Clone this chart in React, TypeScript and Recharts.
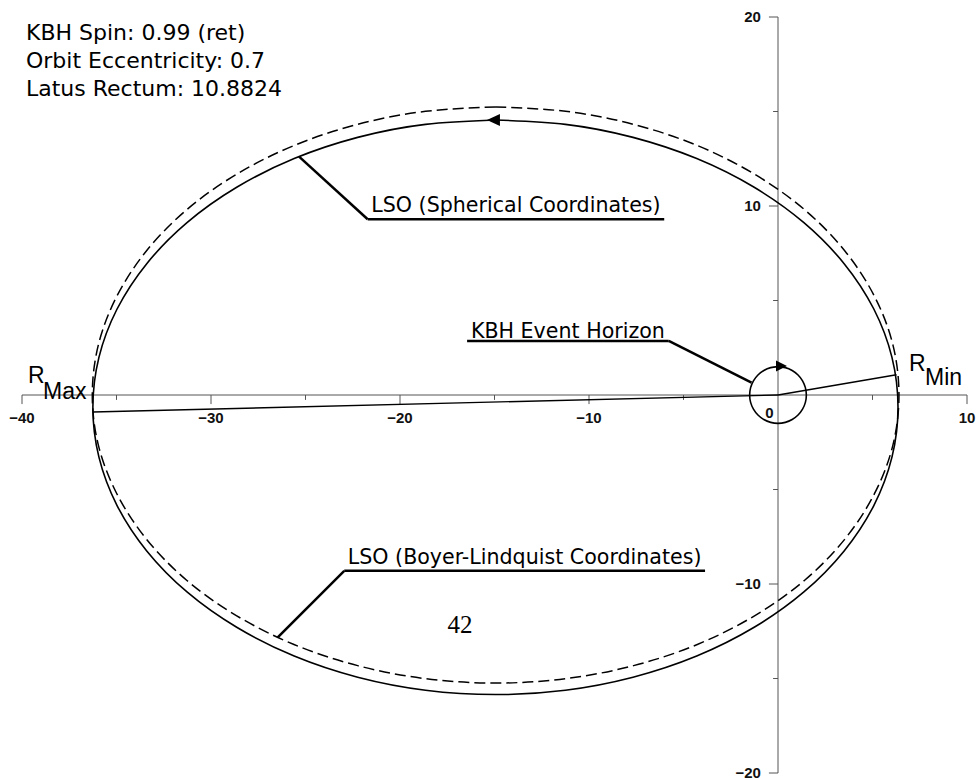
import React from 'react';
import { ScatterChart, Scatter, XAxis, YAxis, ReferenceLine } from 'recharts';

// LSO traced in Boyer-Lindquist coordinates (dashed curve)
const lsoBoyerLindquist = [
  { x: -14.94, y: 15.24 }, { x: -18.65, y: 15.01 }, { x: -22.24, y: 14.32 }, { x: -25.61, y: 13.2 },
  { x: -28.66, y: 11.67 }, { x: -31.29, y: 9.8 }, { x: -33.42, y: 7.62 }, { x: -34.99, y: 5.21 },
  { x: -35.96, y: 2.65 }, { x: -36.28, y: 0 }, { x: -35.96, y: -2.65 }, { x: -34.99, y: -5.21 },
  { x: -33.42, y: -7.62 }, { x: -31.29, y: -9.8 }, { x: -28.66, y: -11.67 }, { x: -25.61, y: -13.2 },
  { x: -22.24, y: -14.32 }, { x: -18.65, y: -15.01 }, { x: -14.94, y: -15.24 }, { x: -11.24, y: -15.01 },
  { x: -7.64, y: -14.32 }, { x: -4.27, y: -13.2 }, { x: -1.22, y: -11.67 }, { x: 1.41, y: -9.8 },
  { x: 3.54, y: -7.62 }, { x: 5.11, y: -5.21 }, { x: 6.08, y: -2.65 }, { x: 6.4, y: 0 },
  { x: 6.08, y: 2.65 }, { x: 5.11, y: 5.21 }, { x: 3.54, y: 7.62 }, { x: 1.41, y: 9.8 },
  { x: -1.22, y: 11.67 }, { x: -4.27, y: 13.2 }, { x: -7.64, y: 14.32 }, { x: -11.24, y: 15.01 },
  { x: -14.94, y: 15.24 },
];

// LSO traced in spherical coordinates (solid curve)
const lsoSpherical = [
  { x: -14.95, y: 14.55 }, { x: -18.65, y: 14.32 }, { x: -22.24, y: 13.63 }, { x: -25.6, y: 12.51 },
  { x: -28.64, y: 10.99 }, { x: -31.27, y: 9.12 }, { x: -33.4, y: 6.95 }, { x: -34.97, y: 4.55 },
  { x: -35.93, y: 1.99 }, { x: -36.25, y: -0.65 }, { x: -35.93, y: -3.29 }, { x: -34.97, y: -5.85 },
  { x: -33.4, y: -8.25 }, { x: -31.27, y: -10.42 }, { x: -28.64, y: -12.29 }, { x: -25.6, y: -13.81 },
  { x: -22.24, y: -14.93 }, { x: -18.65, y: -15.62 }, { x: -14.95, y: -15.85 }, { x: -11.25, y: -15.62 },
  { x: -7.67, y: -14.93 }, { x: -4.3, y: -13.81 }, { x: -1.26, y: -12.29 }, { x: 1.37, y: -10.42 },
  { x: 3.5, y: -8.25 }, { x: 5.07, y: -5.85 }, { x: 6.03, y: -3.29 }, { x: 6.35, y: -0.65 },
  { x: 6.03, y: 1.99 }, { x: 5.07, y: 4.55 }, { x: 3.5, y: 6.95 }, { x: 1.37, y: 9.12 },
  { x: -1.26, y: 10.99 }, { x: -4.3, y: 12.51 }, { x: -7.67, y: 13.63 }, { x: -11.25, y: 14.32 },
  { x: -14.95, y: 14.55 },
];

const eventHorizon = [
  { x: 0, y: 1.5 }, { x: -0.388, y: 1.449 }, { x: -0.75, y: 1.299 }, { x: -1.061, y: 1.061 },
  { x: -1.299, y: 0.75 }, { x: -1.449, y: 0.388 }, { x: -1.5, y: 0 }, { x: -1.449, y: -0.388 },
  { x: -1.299, y: -0.75 }, { x: -1.061, y: -1.061 }, { x: -0.75, y: -1.299 }, { x: -0.388, y: -1.449 },
  { x: 0, y: -1.5 }, { x: 0.388, y: -1.449 }, { x: 0.75, y: -1.299 }, { x: 1.061, y: -1.061 },
  { x: 1.299, y: -0.75 }, { x: 1.449, y: -0.388 }, { x: 1.5, y: 0 }, { x: 1.449, y: 0.388 },
  { x: 1.299, y: 0.75 }, { x: 1.061, y: 1.061 }, { x: 0.75, y: 1.299 }, { x: 0.388, y: 1.449 },
  { x: 0, y: 1.5 },
];

const periapsisRay = [{ x: 0, y: 0 }, { x: 6.27, y: 1.07 }];
const apoapsisRay = [{ x: 0, y: 0 }, { x: -36.25, y: -0.9 }];
const orbitArrow = [{ x: -15.03, y: 14.55 }];
const horizonArrow = [{ x: 0.16, y: 1.53 }];

const sphericalLeader = [{ x: -25.34, y: 12.61 }, { x: -21.71, y: 9.3 }, { x: -6.02, y: 9.3 }];
const horizonLeader = [{ x: -1.4, y: 0.66 }, { x: -5.78, y: 2.86 }, { x: -16.45, y: 2.86 }];
const boyerLeader = [{ x: -26.47, y: -12.82 }, { x: -22.95, y: -9.3 }, { x: -3.86, y: -9.3 }];

const xMajor = [-40, -30, -20, -10, 10];
const xMinor = [-35, -25, -15, -5, 5];
const yMajor = [-20, -10, 10, 20];
const yMinor = [-15, -5, 5, 15];

const infoLines = ['KBH Spin: 0.99 (ret)', 'Orbit Eccentricity: 0.7', 'Latus Rectum: 10.8824'];

const fmt = (v: number) => (v < 0 ? '\u2212' + Math.abs(v) : String(v));

const tickFont = { fill: '#111', fontSize: 15, fontWeight: 'bold', fontFamily: 'Liberation Sans, Arial, sans-serif' };
const noteFont = { fill: '#000', fontSize: 20.6, fontFamily: 'DejaVu Sans, sans-serif' };

const noDot = () => <g />;
const leftArrow = (p: any) => (
  <polygon points={`${p.cx - 7},${p.cy} ${p.cx + 6},${p.cy - 6} ${p.cx + 6},${p.cy + 6}`} fill="#000" />
);
const rightArrow = (p: any) => (
  <polygon points={`${p.cx + 6},${p.cy} ${p.cx - 5},${p.cy - 5.5} ${p.cx - 5},${p.cy + 5.5}`} fill="#000" />
);

const MAJOR = 0.48;
const MINOR = 0.26;

const App: React.FC = () => {
  return (
    <div style={{ position: 'absolute', left: 0, top: 0, width: 978, height: 780, background: '#fff' }}>
      <ScatterChart width={978} height={780} margin={{ top: 17, right: 11, bottom: 7, left: 22 }}>
        <XAxis type="number" dataKey="x" domain={[-40, 10]} allowDataOverflow hide />
        <YAxis type="number" dataKey="y" domain={[-20, 20]} allowDataOverflow hide />

        <ReferenceLine y={0} stroke="#555" strokeWidth={1} />
        <ReferenceLine x={0} stroke="#555" strokeWidth={1} />
        {xMajor.map((v) => (
          <ReferenceLine key={'xM' + v} segment={[{ x: v, y: 0 }, { x: v, y: -MAJOR }]} stroke="#555"
            label={{ value: fmt(v), position: 'bottom', offset: 8, ...tickFont }} />
        ))}
        {xMinor.map((v) => (
          <ReferenceLine key={'xm' + v} segment={[{ x: v, y: 0 }, { x: v, y: -MINOR }]} stroke="#555" />
        ))}
        <ReferenceLine segment={[{ x: -0.45, y: 0 }, { x: -0.45, y: -MAJOR }]} stroke="none"
          label={{ value: '0', position: 'bottom', offset: 3.5, ...tickFont }} />
        {yMajor.map((v) => (
          <ReferenceLine key={'yM' + v} segment={[{ x: 0, y: v }, { x: -MAJOR, y: v }]} stroke="#555"
            label={{ value: fmt(v), position: 'left', offset: 8, ...tickFont }} />
        ))}
        {yMinor.map((v) => (
          <ReferenceLine key={'ym' + v} segment={[{ x: 0, y: v }, { x: -MINOR, y: v }]} stroke="#555" />
        ))}

        <Scatter data={lsoBoyerLindquist} line={{ stroke: '#000', strokeWidth: 1.5, strokeDasharray: '11 5' }}
          lineJointType="natural" shape={noDot} isAnimationActive={false} />
        <Scatter data={lsoSpherical} line={{ stroke: '#000', strokeWidth: 1.6 }}
          lineJointType="natural" shape={noDot} isAnimationActive={false} />
        <Scatter data={eventHorizon} line={{ stroke: '#000', strokeWidth: 1.6 }}
          lineJointType="natural" shape={noDot} isAnimationActive={false} />
        <Scatter data={periapsisRay} line={{ stroke: '#000', strokeWidth: 1.4 }} shape={noDot} isAnimationActive={false} />
        <Scatter data={apoapsisRay} line={{ stroke: '#000', strokeWidth: 1.4 }} shape={noDot} isAnimationActive={false} />
        <Scatter data={orbitArrow} shape={leftArrow} isAnimationActive={false} />
        <Scatter data={horizonArrow} shape={rightArrow} isAnimationActive={false} />

        <ReferenceLine segment={[sphericalLeader[0], sphericalLeader[1]]} stroke="#000" strokeWidth={2.5} />
        <ReferenceLine segment={[sphericalLeader[1], sphericalLeader[2]]} stroke="#000" strokeWidth={2.5}
          label={{ value: 'LSO (Spherical Coordinates)', position: 'top', offset: 7.5, ...noteFont }} />
        <ReferenceLine segment={[horizonLeader[0], horizonLeader[1]]} stroke="#000" strokeWidth={2.5} />
        <ReferenceLine segment={[horizonLeader[1], horizonLeader[2]]} stroke="#000" strokeWidth={2.5}
          label={{ value: 'KBH Event Horizon', position: 'top', offset: 3, ...noteFont }} />
        <ReferenceLine segment={[boyerLeader[0], boyerLeader[1]]} stroke="#000" strokeWidth={2.5} />
        <ReferenceLine segment={[boyerLeader[1], boyerLeader[2]]} stroke="#000" strokeWidth={2.5}
          label={{ value: 'LSO (Boyer-Lindquist Coordinates)', position: 'top', offset: 7, ...noteFont }} />
      </ScatterChart>

      <div style={{ position: 'absolute', left: 26, top: 19, fontFamily: 'DejaVu Sans, sans-serif', fontSize: 22, lineHeight: '28px', color: '#000', whiteSpace: 'nowrap' }}>
        {infoLines.map((t) => (
          <div key={t}>{t}</div>
        ))}
      </div>

      <div style={{ position: 'absolute', left: 28, top: 363.5, fontFamily: 'Liberation Sans, Arial, sans-serif', fontSize: 23, lineHeight: '23px' }}>R</div>
      <div style={{ position: 'absolute', left: 43, top: 379.5, fontFamily: 'Liberation Sans, Arial, sans-serif', fontSize: 23, lineHeight: '23px' }}>Max</div>
      <div style={{ position: 'absolute', left: 909, top: 352, fontFamily: 'Liberation Sans, Arial, sans-serif', fontSize: 23, lineHeight: '23px' }}>R</div>
      <div style={{ position: 'absolute', left: 925, top: 365.5, fontFamily: 'Liberation Sans, Arial, sans-serif', fontSize: 23, lineHeight: '23px' }}>Min</div>

      <div style={{ position: 'absolute', left: 447.5, top: 612, fontFamily: 'Liberation Serif, serif', fontSize: 25, lineHeight: '25px' }}>42</div>
    </div>
  );
};

export default App;
